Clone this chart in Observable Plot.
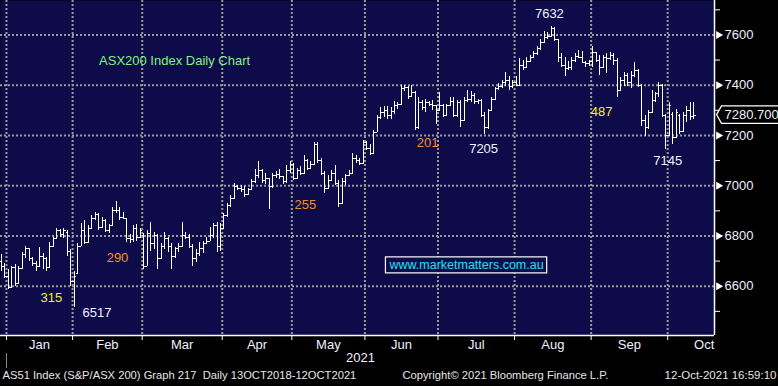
<!DOCTYPE html>
<html><head><meta charset="utf-8">
<script src="https://cdn.jsdelivr.net/npm/d3@7"></script>
<script src="https://cdn.jsdelivr.net/npm/@observablehq/plot@0.6"></script>
<style>
html,body{margin:0;padding:0;background:#000;overflow:hidden;}
#chart svg{display:block;}
</style></head><body><div id="chart"></div>
<script>
// Daily OHLC bars, index 0 = 30 Dec 2020 ... index 199 = 12 Oct 2021
const opens = [
6700,6680,6640,6595,6675,6610,6670,6725,6750,6710,6690,6680,6720,6710,6675,6760,6790,6820,6805,6815,
6740,6620,6650,6760,6820,6775,6830,6870,6885,6835,6860,6820,6840,6900,6900,6875,6870,6790,6785,6830,
6795,6800,6680,6810,6770,6800,6710,6760,6790,6760,6720,6750,6760,6800,6795,6760,6710,6730,6750,6770,
6780,6800,6840,6760,6830,6880,6920,6950,6995,6990,6985,6965,6985,7015,7040,7060,7020,7030,6995,7040,
7045,7035,7015,7060,7085,7030,7060,7050,7100,7070,7085,7165,7100,7050,6990,7020,7050,7010,6930,7015,
7040,7050,7110,7100,7090,7170,7150,7130,7210,7270,7290,7300,7280,7295,7320,7325,7385,7390,7355,7370,
7230,7330,7310,7330,7325,7320,7300,7320,7280,7320,7335,7280,7330,7260,7340,7345,7360,7335,7340,7280,
7230,7300,7345,7385,7395,7410,7420,7395,7410,7400,7480,7470,7495,7510,7525,7545,7570,7590,7595,7625,
7580,7510,7480,7465,7470,7500,7515,7510,7490,7485,7495,7530,7500,7470,7510,7505,7520,7500,7380,7420,
7440,7410,7440,7460,7400,7260,7230,7290,7340,7365,7400,7280,7200,7285,7190,7280,7215,7280,7300,7275];
const highs = [
6725,6690,6665,6680,6685,6680,6735,6758,6752,6715,6700,6755,6730,6715,6775,6795,6830,6825,6828,6820,
6745,6660,6770,6850,6860,6840,6880,6895,6890,6875,6865,6845,6915,6937,6915,6895,6870,6805,6840,6845,
6830,6810,6823,6855,6815,6805,6770,6815,6795,6770,6755,6770,6855,6815,6805,6765,6745,6775,6780,6795,
6835,6850,6855,6850,6890,6930,6960,7010,7000,7000,6995,6990,7025,7065,7095,7065,7050,7030,7050,7055,
7065,7035,7080,7095,7090,7070,7075,7120,7105,7095,7172,7170,7110,7055,7040,7060,7080,7020,7030,7045,
7060,7130,7120,7110,7180,7175,7165,7220,7280,7310,7315,7315,7310,7335,7330,7400,7400,7395,7400,7375,
7350,7340,7345,7335,7340,7320,7370,7325,7325,7350,7350,7340,7340,7350,7380,7375,7365,7345,7342,7290,
7305,7350,7390,7405,7420,7450,7435,7420,7435,7505,7500,7510,7520,7535,7555,7580,7612,7608,7632,7628,
7582,7525,7510,7495,7510,7525,7540,7535,7495,7500,7555,7532,7520,7520,7525,7530,7525,7505,7430,7450,
7445,7455,7490,7462,7402,7280,7300,7380,7370,7412,7402,7282,7333,7290,7305,7285,7290,7315,7330,7330];
const lows = [
6660,6630,6588,6590,6600,6605,6665,6712,6700,6680,6658,6678,6665,6660,6672,6755,6785,6795,6790,6720,
6600,6517,6650,6758,6765,6770,6825,6860,6820,6830,6815,6810,6838,6890,6860,6865,6775,6770,6775,6780,
6790,6665,6678,6740,6745,6665,6705,6745,6735,6665,6710,6735,6755,6785,6750,6680,6695,6720,6730,6765,
6780,6790,6735,6740,6825,6875,6915,6945,6980,6975,6955,6960,6980,7010,7030,7010,7005,6905,6990,7030,
7025,7005,7010,7050,7020,7025,7040,7045,7060,7065,7080,7090,7040,6970,6985,7015,7000,6915,6925,7000,
7035,7045,7090,7080,7085,7140,7120,7125,7210,7265,7270,7265,7265,7285,7305,7320,7375,7345,7350,7220,
7225,7300,7290,7315,7300,7245,7295,7270,7278,7315,7270,7270,7230,7255,7330,7330,7325,7325,7270,7205,
7225,7298,7340,7380,7385,7395,7380,7385,7395,7398,7460,7465,7490,7505,7520,7540,7565,7580,7588,7575,
7490,7470,7435,7460,7460,7490,7505,7485,7470,7475,7470,7490,7440,7465,7445,7500,7480,7350,7378,7395,
7395,7385,7430,7390,7235,7195,7225,7288,7330,7350,7270,7145,7195,7165,7188,7205,7210,7250,7260,7265];
const closes = [
6680,6640,6595,6675,6610,6670,6725,6750,6710,6690,6680,6720,6710,6675,6760,6790,6820,6805,6820,6740,
6620,6640,6760,6820,6775,6830,6870,6885,6835,6860,6820,6840,6900,6900,6875,6870,6790,6785,6830,6795,
6820,6680,6810,6770,6800,6710,6760,6790,6760,6720,6750,6760,6800,6795,6760,6710,6730,6750,6770,6780,
6800,6840,6760,6830,6880,6920,6950,6995,6990,6985,6965,6985,7015,7040,7060,7020,7030,6995,7040,7045,
7035,7015,7060,7085,7030,7060,7050,7100,7070,7085,7165,7100,7050,6990,7020,7050,7010,6930,7015,7040,
7050,7110,7100,7090,7170,7150,7130,7210,7270,7290,7300,7280,7295,7320,7325,7385,7390,7355,7370,7230,
7330,7310,7330,7325,7320,7300,7320,7280,7320,7335,7280,7330,7260,7340,7345,7360,7335,7340,7280,7230,
7300,7345,7385,7395,7410,7420,7395,7410,7400,7480,7470,7495,7510,7525,7545,7570,7590,7595,7625,7580,
7510,7480,7465,7470,7500,7515,7510,7490,7485,7495,7530,7500,7470,7510,7505,7520,7500,7380,7420,7440,
7410,7440,7460,7400,7260,7230,7290,7340,7365,7400,7280,7200,7320,7190,7290,7215,7280,7300,7275,7280.7];

// Month boundaries (between trading-day indices) and label positions
const monthStarts = [1.5, 20.5, 40.5, 63.5, 83.5, 104.5, 125.5, 147.5, 169.5, 191.5];
const monthNames = ["Jan","Feb","Mar","Apr","May","Jun","Jul","Aug","Sep","Oct"];
const monthLabelPos = [11, 30.5, 52, 73.5, 94, 115, 136.5, 158.5, 180.5, 202];
const yearLabel = "2021";
const yearLabelPos = 103.2;
const yMajor = [6600, 6800, 7000, 7200, 7400, 7600];
const yMinor = [6500, 6700, 6900, 7100, 7300, 7500, 7700];
const lastPrice = 7280.7;

// Annotations
const annoTexts  = ["ASX200 Index Daily Chart","7632","7205","7145","6517","201","255","290","315","487"];
const annoX      = [49.8, 157.5, 138.6, 191.5, 27.5, 122.5, 87.4, 33.4, 14.4, 172.5];
const annoY      = [7498, 7685, 7148, 7100, 6495, 7172, 6925, 6714, 6555, 7295];
const annoColors = ["#7ef57e","#eef0ff","#eef0ff","#eef0ff","#eef0ff","#f0922b","#f0922b","#f0922b","#f2f22a","#f2f22a"];
const urlText = "www.marketmatters.com.au";
const urlX = 133.7, urlY = 6685;
const footerLeft = "AS51 Index (S&P/ASX 200) Graph 217  Daily 13OCT2018-12OCT2021";
const footerMid = "Copyright\u00A9 2021 Bloomberg Finance L.P.";
const footerRight = "12-Oct-2021 16:59:10";

const bars = closes.map((c, i) => ({i, o: opens[i], h: highs[i], l: lows[i], c}));
const annos = annoTexts.map((t, k) => ({t, x: annoX[k], y: annoY[k], color: annoColors[k]}));
const labelMap = new Map(monthLabelPos.map((p, k) => [p, monthNames[k]]));

const xDom = [-0.22, 204.95];
const yDom = [6404, 7737];
const navy = "#0e0b4a";
const gridStyle = {stroke: "#9a9a9a", strokeWidth: 2, strokeDasharray: "2,2"};
const font = "'Liberation Sans', Arial, sans-serif";

const plot = Plot.plot({
  width: 778, height: 386,
  marginLeft: 0, marginRight: 64, marginTop: 0, marginBottom: 51,
  style: {background: "#000", color: "white", fontFamily: font, fontSize: "13px"},
  x: {domain: xDom, label: null},
  y: {domain: yDom, label: null},
  color: {type: "identity"},
  marks: [
    Plot.frame({fill: navy, stroke: null}),
    Plot.ruleY(yMajor, gridStyle),
    Plot.ruleX(monthStarts, gridStyle),
    Plot.ruleX(bars, {x: "i", y1: "l", y2: "h", stroke: "white", strokeWidth: 1, shapeRendering: "crispEdges"}),
    Plot.link(bars, {x1: d => d.i - 0.5, x2: "i", y1: "o", y2: "o", stroke: "white", strokeWidth: 1, shapeRendering: "crispEdges"}),
    Plot.link(bars, {x1: "i", x2: d => d.i + 0.5, y1: "c", y2: "c", stroke: "white", strokeWidth: 1, shapeRendering: "crispEdges"}),
    Plot.text(annos, {x: "x", y: "y", text: "t", fill: "color", fontSize: 13}),
    Plot.text([urlText], {x: () => urlX, y: () => urlY, text: d => d, fill: "#1fe3f0", fontSize: 12.5, className: "url-label"}),
    // axis lines
    Plot.ruleY([yDom[0]], {stroke: "white", strokeWidth: 1.5}),
    Plot.ruleX([xDom[1]], {stroke: "white", strokeWidth: 1.5}),
    // bottom axis
    Plot.axisX(monthStarts, {tickSize: 5, tickFormat: () => "", stroke: "white"}),
    Plot.axisX(monthLabelPos, {tickSize: 0, tickPadding: 4, tickFormat: d => labelMap.get(d), fontSize: 13, fill: "#eef0ff"}),
    Plot.axisX([monthStarts[0]], {tickSize: 15, dy: 18, tickFormat: () => "", stroke: "#8a8a8a"}),
    Plot.text([yearLabel], {x: () => yearLabelPos, frameAnchor: "bottom", dy: 26, text: d => d, fontSize: 13, fill: "#eef0ff"}),
    // right axis
    Plot.axisY(yMinor, {anchor: "right", tickSize: 5, tickFormat: () => "", stroke: "white"}),
    Plot.axisY(yMajor, {anchor: "right", tickSize: 0, tickPadding: 10, tickFormat: d => String(d), fontSize: 13, fill: "#eef0ff"}),
    Plot.dot(yMajor, {y: d => d, frameAnchor: "right", symbol: "triangle", rotate: 90, r: 3, dx: 4, fill: "white", stroke: null}),
    Plot.text([lastPrice], {y: d => d, frameAnchor: "right", dx: 10, textAnchor: "start", text: d => d.toFixed(3), fontSize: 13, fill: "#eef0ff", className: "last-tag"}),
    // footer
    Plot.text([footerLeft], {frameAnchor: "bottom-left", textAnchor: "start", dx: 2, dy: 43, text: d => d, fontSize: 11.2, fill: "#e6e6e6"}),
    Plot.text([footerMid], {frameAnchor: "bottom-left", textAnchor: "start", dx: 402, dy: 43, text: d => d, fontSize: 11.2, fill: "#e6e6e6"}),
    Plot.text([footerRight], {frameAnchor: "bottom-right", textAnchor: "end", dx: 62, dy: 43, text: d => d, fontSize: 11.5, fill: "#e6e6e6"})
  ]
});
document.getElementById("chart").append(plot);

// boxes behind the URL label and the last-price tag
d3.select(plot).selectAll(".url-label text").each(function() {
  const b = this.getBBox();
  d3.select(this.parentNode).insert("rect", "text")
    .attr("transform", this.getAttribute("transform"))
    .attr("x", b.x - 3).attr("y", b.y - 1).attr("width", b.width + 6).attr("height", b.height + 2)
    .attr("fill", navy).attr("stroke", "white").attr("stroke-width", 1.2);
});
d3.select(plot).selectAll(".last-tag text").each(function() {
  const b = this.getBBox();
  const top = b.y - 1.5, bot = b.y + b.height + 1, left = b.x - 3, tip = b.x - 8, right = b.x + b.width + 10;
  const cy = (top + bot) / 2;
  d3.select(this.parentNode).insert("path", "text")
    .attr("transform", this.getAttribute("transform"))
    .attr("d", `M${tip},${cy}L${left},${top}L${right},${top}L${right},${bot}L${left},${bot}Z`)
    .attr("fill", "#000").attr("stroke", "white").attr("stroke-width", 1.3);
});
</script>
</body></html>
